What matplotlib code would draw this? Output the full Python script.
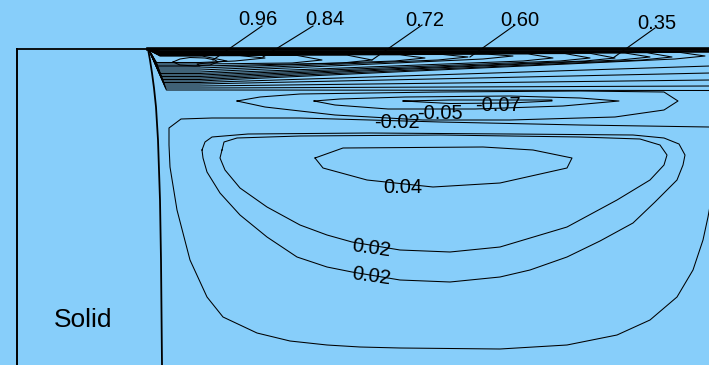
import numpy as np
import matplotlib.pyplot as plt

plt.rcParams['font.family'] = ['Liberation Sans', 'DejaVu Sans']

BG = '#87CEFA'

# geometry (grid units, y downwards)
wall_y = 49
box_left = 17
corner = (149, 50)
interface_x = [148, 150, 152, 154, 156, 158, 160, 161, 162]
interface_y = [49, 60, 73, 88, 107, 140, 200, 260, 365]

# shear layer under the lid: hairpin contours (tip x, tip y, lower branch y)
tip_x = [227, 265, 322, 372, 425, 468, 513, 553, 590, 615, 650, 672, 705,
         740, 740, 740, 740, 740]
tip_y = [61, 58, 60, 60, 58, 57, 56, 58, 58, 58, 57, 57, 56,
         63, 70, 77, 83, 87.5]
low_y = [66, 62.5, 64, 66, 68, 70, 72, 73.5, 75, 76.5, 78, 79.5, 81,
         82.5, 84, 86, 88, 90]

# small closed loop of the 0.96 level
oval_x = [173, 180, 190, 205, 215, 218, 210, 195, 180, 173]
oval_y = [62, 59, 57.5, 58, 60, 62, 65, 66, 65, 62]

# secondary (negative) eddy
neg02_x = [237, 260, 300, 440, 580, 664, 678, 664, 615, 510, 423, 335, 265, 237]
neg02_y = [101, 97, 94, 92, 91, 92, 101, 110, 117, 120, 120, 115, 107, 101]
neg05_x = [314, 340, 405, 510, 580, 619, 563, 475, 388, 335, 314]
neg05_y = [101, 99, 97, 96, 98, 101, 106, 109, 109, 105, 101]
neg07_x = [403, 450, 552, 552, 510, 450, 403]
neg07_y = [101, 100, 100, 101, 103, 103.5, 101]

# main vortex
pos00_x = [712, 709, 580, 440, 300, 212, 181, 169, 169, 170, 177, 190, 207,
           223, 257, 290, 327, 360, 400, 500, 567, 617, 650, 677, 693, 703,
           708, 712]
pos00_y = [127, 127, 125, 122, 118, 118, 119, 128, 145, 167, 210, 260, 297,
           317, 333, 341, 345, 347, 348, 349, 345, 335, 320, 297, 270, 240,
           217, 195]
pos02a_x = [202, 205, 212, 248, 370, 510, 633, 664, 679, 685, 683, 677, 655,
            633, 600, 567, 530, 500, 450, 400, 352, 327, 297, 267, 240, 220,
            207, 203, 202]
pos02a_y = [150, 142, 137, 134, 133, 134, 135, 138, 144, 155, 165, 180, 202,
            223, 241, 257, 270, 277, 282, 280, 272, 267, 257, 237, 215, 193,
            172, 158, 150]
pos02b_x = [222, 224, 237, 300, 440, 580, 640, 660, 667, 664, 650, 617, 567,
            500, 450, 400, 352, 327, 300, 267, 240, 225, 220, 222]
pos02b_y = [150, 142, 138, 136, 135, 137, 139, 145, 155, 165, 180, 200, 227,
            247, 252, 250, 242, 235, 225, 207, 188, 170, 158, 150]
pos04_x = [315, 323, 367, 433, 500, 567, 572, 533, 483, 343, 315]
pos04_y = [158, 168, 180, 187, 183, 168, 158, 150, 147, 148, 158]

# labels with leader lines (text anchored on its baseline)
top_labels = ['0.96', '0.84', '0.72', '0.60', '0.35']
top_label_x = [258, 325, 425, 520, 657]
top_label_y = [25, 25, 26, 26, 29]
leader_x0 = [262, 313, 422, 515, 655]
leader_y0 = [26, 26, 25, 25, 28]
leader_x1 = [213, 263, 372, 470, 613]
leader_y1 = [60, 57, 60, 57, 58]

inline_labels = ['-0.07', '-0.05', '-0.02', '0.04', '0.02', '0.02']
inline_x = [498, 440, 397, 403, 371, 371]
inline_y = [111, 119, 128, 193, 253.5, 281.5]
inline_rot = [0, 0, 0, 0, -8, -8]


def hairpin(k):
    tx, ty, ly = tip_x[k], tip_y[k], low_y[k]
    uy = 56 - 0.3 * k
    fan_x = corner[0] + (ly - corner[1]) * 0.36 + 3
    xs = [corner[0], fan_x, 200, tx - 30, tx, tx - 25, 160, corner[0]]
    ys = [corner[1], ly, ly, ty + 3, ty, uy, uy, corner[1]]
    return xs, ys


fig = plt.figure(figsize=(7.09, 3.65), dpi=100, facecolor=BG)
ax = fig.add_axes([0, 0, 1, 1])
ax.set_facecolor(BG)
ax.set_xlim(0, 709)
ax.set_ylim(365, 0)
ax.axis('off')

lw = 0.75
for k in range(len(tip_x)):
    xs, ys = hairpin(k)
    ax.plot(xs, ys, color='black', lw=lw)
ax.plot(oval_x, oval_y, color='black', lw=lw)

for xs, ys in [(neg02_x, neg02_y), (neg05_x, neg05_y), (neg07_x, neg07_y),
               (pos00_x, pos00_y), (pos02a_x, pos02a_y), (pos02b_x, pos02b_y),
               (pos04_x, pos04_y)]:
    ax.plot(xs, ys, color='black', lw=lw)

# solid block and lid
ax.plot([box_left, corner[0]], [wall_y, wall_y], color='black', lw=1.3)
ax.plot([corner[0] - 1, 709], [wall_y, wall_y], color='black', lw=2.6)
ax.plot([box_left, box_left], [wall_y, 365], color='black', lw=1.4)
ax.plot(interface_x, interface_y, color='black', lw=1.3)
ax.text(83, 320, 'Solid', fontsize=19, ha='center', va='center')

for i, lab in enumerate(top_labels):
    ax.plot([leader_x0[i], leader_x1[i]], [leader_y0[i], leader_y1[i]],
            color='black', lw=0.8)
    ax.text(top_label_x[i], top_label_y[i], lab, fontsize=14.5,
            ha='center', va='baseline')

for i, lab in enumerate(inline_labels):
    ax.text(inline_x[i], inline_y[i], lab, fontsize=14.5, ha='center',
            va='baseline', rotation=inline_rot[i], rotation_mode='anchor')

fig.savefig('out.png', dpi=100, facecolor=BG)
